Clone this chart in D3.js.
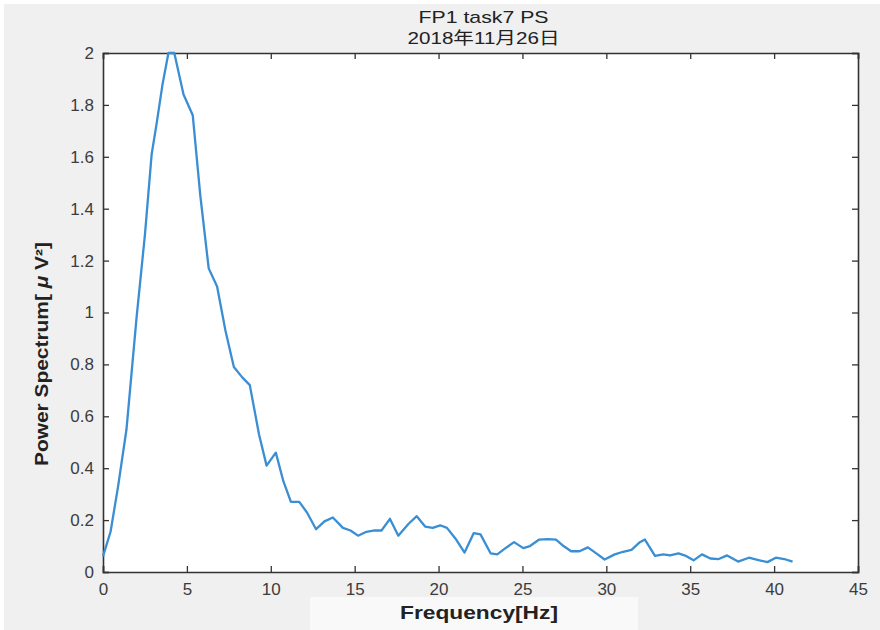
<!DOCTYPE html>
<html>
<head>
<meta charset="utf-8">
<script src="https://cdn.jsdelivr.net/npm/d3@7"></script>
<style>
  body { margin: 0; background: #fff; }
  svg text { font-family: "Liberation Sans", "Noto Sans CJK JP", sans-serif; }
</style>
</head>
<body>
<script>
// values
var freq = [0, 0.45, 0.9, 1.4, 2.0, 2.5, 2.9, 3.2, 3.55, 3.9, 4.25, 4.8, 5.35, 5.8, 6.3, 6.8,
  7.3, 7.8, 8.3, 8.75, 9.3, 9.75, 10.3, 10.75, 11.2, 11.7, 12.15, 12.7, 13.2, 13.7, 14.3,
  14.75, 15.2, 15.7, 16.2, 16.6, 17.1, 17.6, 18.2, 18.7, 19.2, 19.65, 20.1, 20.5, 21.05,
  21.55, 22.1, 22.5, 23.1, 23.5, 23.95, 24.5, 25.05, 25.45, 26.0, 26.5, 27.0, 27.45, 27.9,
  28.4, 28.9, 29.4, 29.9, 30.5, 31.0, 31.5, 32.0, 32.3, 32.9, 33.4, 33.8, 34.3, 34.75,
  35.2, 35.7, 36.2, 36.7, 37.2, 37.85, 38.5, 39.0, 39.6, 40.1, 40.6, 41.1];
var power = [0.06, 0.155, 0.33, 0.55, 0.98, 1.30, 1.61, 1.73, 1.88, 2.01, 2.01, 1.84, 1.76, 1.45,
  1.17, 1.10, 0.93, 0.79, 0.75, 0.72, 0.53, 0.41, 0.46, 0.35, 0.27, 0.27, 0.23, 0.165, 0.195,
  0.21, 0.17, 0.16, 0.14, 0.155, 0.16, 0.16, 0.205, 0.14, 0.185, 0.215, 0.175, 0.17, 0.18,
  0.17, 0.125, 0.075, 0.15, 0.145, 0.072, 0.068, 0.09, 0.115, 0.092, 0.10, 0.125, 0.127,
  0.125, 0.10, 0.08, 0.08, 0.095, 0.072, 0.048, 0.068, 0.078, 0.085, 0.115, 0.125, 0.062,
  0.068, 0.064, 0.072, 0.062, 0.045, 0.068, 0.052, 0.05, 0.064, 0.04, 0.055, 0.047, 0.038,
  0.055, 0.05, 0.04];
var xTicks = [0, 5, 10, 15, 20, 25, 30, 35, 40, 45];
var yTicks = [0, 0.2, 0.4, 0.6, 0.8, 1, 1.2, 1.4, 1.6, 1.8, 2];
var titleLines = ["FP1 task7 PS", "2018年11月26日"];

var W = 880, H = 630;
var margin = {top: 53, right: 22, bottom: 58, left: 103},
    width = W - margin.left - margin.right,
    height = H - margin.top - margin.bottom;

var svg = d3.select("body").append("svg")
    .attr("width", W)
    .attr("height", H);

// figure background (the scan has a thin white edge and a lighter patch under the x label)
svg.append("rect").attr("x", 4).attr("y", 4).attr("width", W - 4).attr("height", H - 4).attr("fill", "#f0f0f0");
svg.append("rect").attr("x", 310).attr("y", 597).attr("width", 328).attr("height", 33).attr("fill", "#f9f9f9");

var g = svg.append("g")
    .attr("transform", "translate(" + margin.left + "," + margin.top + ")");

var x = d3.scaleLinear().domain([0, 45]).range([0, width]);
var y = d3.scaleLinear().domain([0, 2]).range([height, 0]);

g.append("rect").attr("width", width).attr("height", height).attr("fill", "#fff");

var tickLen = 6;
// bottom/left with labels, ticks pointing inside
var xAxis = g.append("g")
    .attr("transform", "translate(0," + height + ")")
    .call(d3.axisBottom(x).tickValues(xTicks).tickSize(-tickLen).tickPadding(11).tickFormat(d3.format("")));
var yAxis = g.append("g")
    .call(d3.axisLeft(y).tickValues(yTicks).tickSize(-tickLen).tickPadding(9).tickFormat(d3.format("")));
// top and right, ticks only
var xTop = g.append("g")
    .call(d3.axisTop(x).tickValues(xTicks).tickSize(-tickLen).tickFormat(""));
var yRight = g.append("g")
    .attr("transform", "translate(" + width + ",0)")
    .call(d3.axisRight(y).tickValues(yTicks).tickSize(-tickLen).tickFormat(""));

[xAxis, yAxis, xTop, yRight].forEach(function(a) {
  a.select(".domain").attr("stroke", "#333").attr("stroke-width", 1.6);
  a.selectAll(".tick line").attr("stroke", "#333").attr("stroke-width", 1.3);
  a.selectAll("text").attr("fill", "#3c3c3c").style("font-size", "17px");
});

var line = d3.line()
    .x(function(d, i) { return x(freq[i]); })
    .y(function(d) { return y(Math.min(d, 2)); });

g.append("path")
    .datum(power)
    .attr("fill", "none")
    .attr("stroke", "#3a8ed3")
    .attr("stroke-width", 2.3)
    .attr("stroke-linejoin", "round")
    .attr("d", line);

// title (the picture is stretched sideways, so the text is widened to match)
var titleWidths = [130, 152];
svg.selectAll(".title")
    .data(titleLines)
  .enter().append("text")
    .attr("class", "title")
    .attr("x", margin.left + width / 2 + 3)
    .attr("y", function(d, i) { return 23 + i * 21; })
    .attr("text-anchor", "middle")
    .attr("fill", "#222")
    .attr("textLength", function(d, i) { return titleWidths[i]; })
    .attr("lengthAdjust", "spacingAndGlyphs")
    .style("font-size", "17px")
    .text(function(d) { return d; });

// axis labels
svg.append("text")
    .attr("x", 479)
    .attr("y", 619)
    .attr("text-anchor", "middle")
    .attr("fill", "#222")
    .attr("textLength", 158)
    .attr("lengthAdjust", "spacingAndGlyphs")
    .style("font-size", "18px")
    .style("font-weight", "bold")
    .text("Frequency[Hz]");

var yLab = svg.append("text")
    .attr("transform", "translate(48,354) rotate(-90)")
    .attr("text-anchor", "middle")
    .attr("fill", "#222")
    .attr("textLength", 224)
    .attr("lengthAdjust", "spacingAndGlyphs")
    .style("font-size", "18px")
    .style("font-weight", "bold");
yLab.append("tspan").text("Power Spectrum[ ");
yLab.append("tspan").style("font-style", "italic").text("μ");
yLab.append("tspan").text(" V²]");
</script>
</body>
</html>
